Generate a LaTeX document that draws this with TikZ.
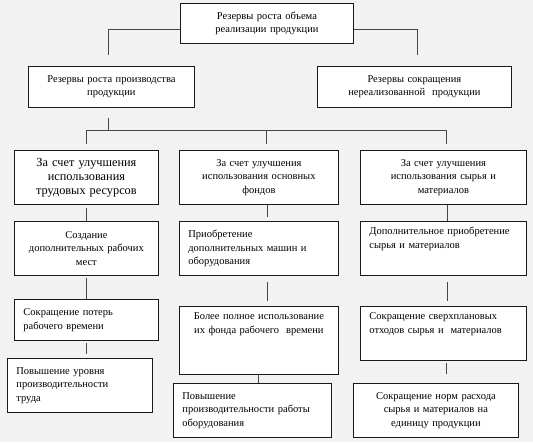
\documentclass[tikz,border=0pt]{standalone}
\usepackage{fontspec}
\setmainfont{Liberation Serif}
\usepackage{tikz}
\usetikzlibrary{positioning, calc}
\colorlet{pagegray}{black!5}
\colorlet{linkgray}{black!72}
\newcommand\boxfont{\fontsize{10.5}{13.5}\selectfont}
\newcommand\bigboxfont{\fontsize{12.3}{14}\selectfont}

\begin{document}
\begin{tikzpicture}[
  x = 1pt, y = -1pt,
  font = \boxfont,
  %
  % ── Node styles ─────────────────────────────────────────────────
  box/.style     = {draw=black!90, fill=white, line width=0.8pt,
                    anchor=north west, align=center,
                    inner xsep=5pt, inner ysep=3pt},
  lbox/.style    = {box, align=left, inner xsep=9pt},
  topbox/.style  = {text height=10.5pt, text depth=#1},
  link/.style    = {draw=linkgray, line width=1pt},
]

% page background
\fill[pagegray] (0,0) rectangle (533,442);

%% ═══════════════════════════════════════════════════════════════════
%% TOP — total reserves and the two main groups
%% ═══════════════════════════════════════════════════════════════════

\node[box, text width=163pt, minimum height=40pt] (top) at (180,3)
  {Резервы роста объема\\реализации продукции};

\node[box, text width=156pt, minimum height=41pt] (rs-prod) at (28,66)
  {Резервы роста производства\\продукции};

\node[box, text width=184pt, minimum height=41pt] (rs-sales) at (317,66)
  {Резервы сокращения\\нереализованной\ \ продукции};

%% ── Links ────────────────────────────────────────────────────────
\draw[link, shorten >=11pt] ([yshift=-6pt]top.west) -| ([xshift=-3pt]rs-prod.north);
\draw[link, shorten >=11pt] ([yshift=-6pt]top.east) -| ([xshift=3pt]rs-sales.north);

\coordinate (bus) at ([xshift=-3pt, yshift=-23pt]rs-prod.south);
\draw[link, shorten <=10pt] ([xshift=-3pt]rs-prod.south) -- (bus);

%% ═══════════════════════════════════════════════════════════════════
%% COLUMN A — labour resources
%% ═══════════════════════════════════════════════════════════════════

\node[box, font=\bigboxfont, text width=134pt, minimum height=54pt] (tr-1) at (14,150)
  {За счет улучшения\\использования\\трудовых ресурсов};

\node[box, text width=134pt, minimum height=54pt] (tr-2) at (14,221)
  {Создание\\дополнительных рабочих\\мест};

\node[lbox, text width=126pt, minimum height=41pt] (tr-3) at (14,299)
  {Сокращение потерь\\рабочего времени};

\node[lbox, text width=127pt, minimum height=54pt] (tr-4) at (7,358)
  {Повышение уровня\\производительности\\труда};

%% ── Links ────────────────────────────────────────────────────────
\draw[link, shorten >=6pt] (bus) -| (tr-1.north);
\draw[link, shorten <=3pt] (tr-1) -- (tr-2);
\draw[link, shorten <=2pt] (tr-2) -- (tr-3);
\draw[link, shorten <=2pt, shorten >=4pt] (tr-3.south) -- (tr-3.south |- tr-4.north);

%% ═══════════════════════════════════════════════════════════════════
%% COLUMN B — fixed assets
%% ═══════════════════════════════════════════════════════════════════

\node[box, text width=149pt, minimum height=54pt] (of-1) at (179,150)
  {За счет улучшения\\использования основных\\фондов};

\node[lbox, text width=141pt, minimum height=54pt] (of-2) at (179,221)
  {Приобретение\\дополнительных машин и\\оборудования};

\node[box, text width=149pt, topbox=51.5pt] (of-3) at (179,306)
  {Более полное использование\\их фонда рабочего\ \ времени};

\node[lbox, text width=140pt, minimum height=54pt] (of-4) at (173,383)
  {Повышение\\производительности работы\\оборудования};

%% ── Links ────────────────────────────────────────────────────────
\draw[link, shorten >=6pt] (bus) -| ([xshift=7.5pt]of-1.north);
\draw[link, shorten >=4pt] ([xshift=8.5pt]of-1.south) -- ([xshift=8.5pt]of-2.north);
\draw[link, shorten <=6pt, shorten >=5pt] ([xshift=8.5pt]of-2.south) -- ([xshift=8.5pt]of-3.north);
\draw[link] (of-3.south) -- (of-3.south |- of-4.north);

%% ═══════════════════════════════════════════════════════════════════
%% COLUMN C — raw materials
%% ═══════════════════════════════════════════════════════════════════

\node[box, text width=156pt, minimum height=54pt] (sm-1) at (360,150)
  {За счет улучшения\\использования сырья и\\материалов};

\node[lbox, text width=148pt, topbox=37.5pt] (sm-2) at (360,221)
  {Дополнительное приобретение\\сырья и материалов};

\node[lbox, text width=148pt, topbox=37.5pt] (sm-3) at (360,306)
  {Сокращение сверхплановых\\отходов сырья и\ \ материалов};

\node[box, text width=155pt, minimum height=54pt] (sm-4) at (353,383)
  {Сокращение норм расхода\\сырья и материалов на\\единицу продукции};

%% ── Links ────────────────────────────────────────────────────────
\draw[link, shorten >=6pt] (bus) -| ([xshift=3pt]sm-1.north);
\draw[link] ([xshift=4pt]sm-1.south) -- ([xshift=4pt]sm-2.north);
\draw[link, shorten <=6pt, shorten >=5pt] ([xshift=4pt]sm-2.south) -- ([xshift=4pt]sm-3.north);
\draw[link, shorten <=2pt, shorten >=9pt] ([xshift=3pt]sm-3.south) -- ([xshift=3pt]sm-3.south |- sm-4.north);

\end{tikzpicture}
\end{document}
